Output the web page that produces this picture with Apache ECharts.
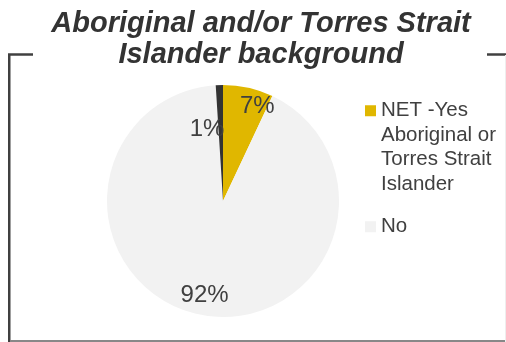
<!DOCTYPE html>
<html>
<head>
<meta charset="utf-8">
<script src="https://cdn.jsdelivr.net/npm/echarts@6/dist/echarts.min.js"></script>
<style>
html,body{margin:0;padding:0;background:#fff;}
#chart{width:506px;height:342px;}
</style>
</head>
<body>
<div id="chart"></div>
<script>
var titleText = 'Aboriginal and/or Torres Strait\nIslander background';
var categories = ['NET -Yes\nAboriginal or\nTorres Strait\nIslander', 'No', 'Other'];
var values = [7, 92, 1];
var colors = ['#E0B700', '#F2F2F2', '#333333'];
var legendItems = ['NET -Yes\nAboriginal or\nTorres Strait\nIslander', 'No'];
var labelOffsets = [[21, -35], [-7, 34], [-14, -11]];

var FONT = '"Liberation Sans", Arial, sans-serif';
var chart = echarts.init(document.getElementById('chart'), null, {renderer: 'canvas'});

var data = categories.map(function (c, i) {
  return {
    name: c,
    value: values[i],
    itemStyle: {color: colors[i]},
    label: {offset: labelOffsets[i]}
  };
});

chart.setOption({
  backgroundColor: '#ffffff',
  animation: false,
  title: {
    text: titleText,
    left: 261,
    textAlign: 'center',
    top: 8,
    padding: 0,
    textStyle: {
      fontFamily: FONT,
      fontSize: 29,
      fontStyle: 'italic',
      fontWeight: 'bold',
      color: '#333333',
      lineHeight: 31
    }
  },
  legend: {
    orient: 'vertical',
    left: 365,
    top: 25,
    padding: 0,
    itemGap: 18,
    itemWidth: 11,
    itemHeight: 11,
    icon: 'rect',
    selectedMode: false,
    data: legendItems,
    formatter: function (name) {
      return name === legendItems[0] ? '\n\n\n' + name : name;
    },
    textStyle: {
      fontFamily: FONT,
      fontSize: 20.5,
      lineHeight: 24.5,
      color: '#404040'
    }
  },
  graphic: [
    {type: 'line', shape: {x1: 8, y1: 54.5, x2: 33, y2: 54.5}, style: {stroke: '#404040', lineWidth: 2.5}, silent: true},
    {type: 'line', shape: {x1: 487, y1: 54.5, x2: 506, y2: 54.5}, style: {stroke: '#404040', lineWidth: 2.5}, silent: true},
    {type: 'line', shape: {x1: 9.25, y1: 54, x2: 9.25, y2: 342}, style: {stroke: '#404040', lineWidth: 2.5}, silent: true},
    {type: 'line', shape: {x1: 10, y1: 341, x2: 506, y2: 341}, style: {stroke: '#888888', lineWidth: 2}, silent: true},
    {type: 'line', shape: {x1: 505.5, y1: 55, x2: 505.5, y2: 342}, style: {stroke: '#eeeeee', lineWidth: 1}, silent: true}
  ],
  series: [{
    type: 'pie',
    center: [223, 201],
    radius: [0, 116],
    startAngle: 90,
    clockwise: true,
    avoidLabelOverlap: false,
    silent: true,
    data: data,
    label: {
      show: true,
      position: 'inside',
      formatter: '{c}%',
      fontFamily: FONT,
      fontSize: 24,
      color: '#404040'
    },
    labelLine: {show: false},
    itemStyle: {borderWidth: 0}
  }]
});
</script>
</body>
</html>
